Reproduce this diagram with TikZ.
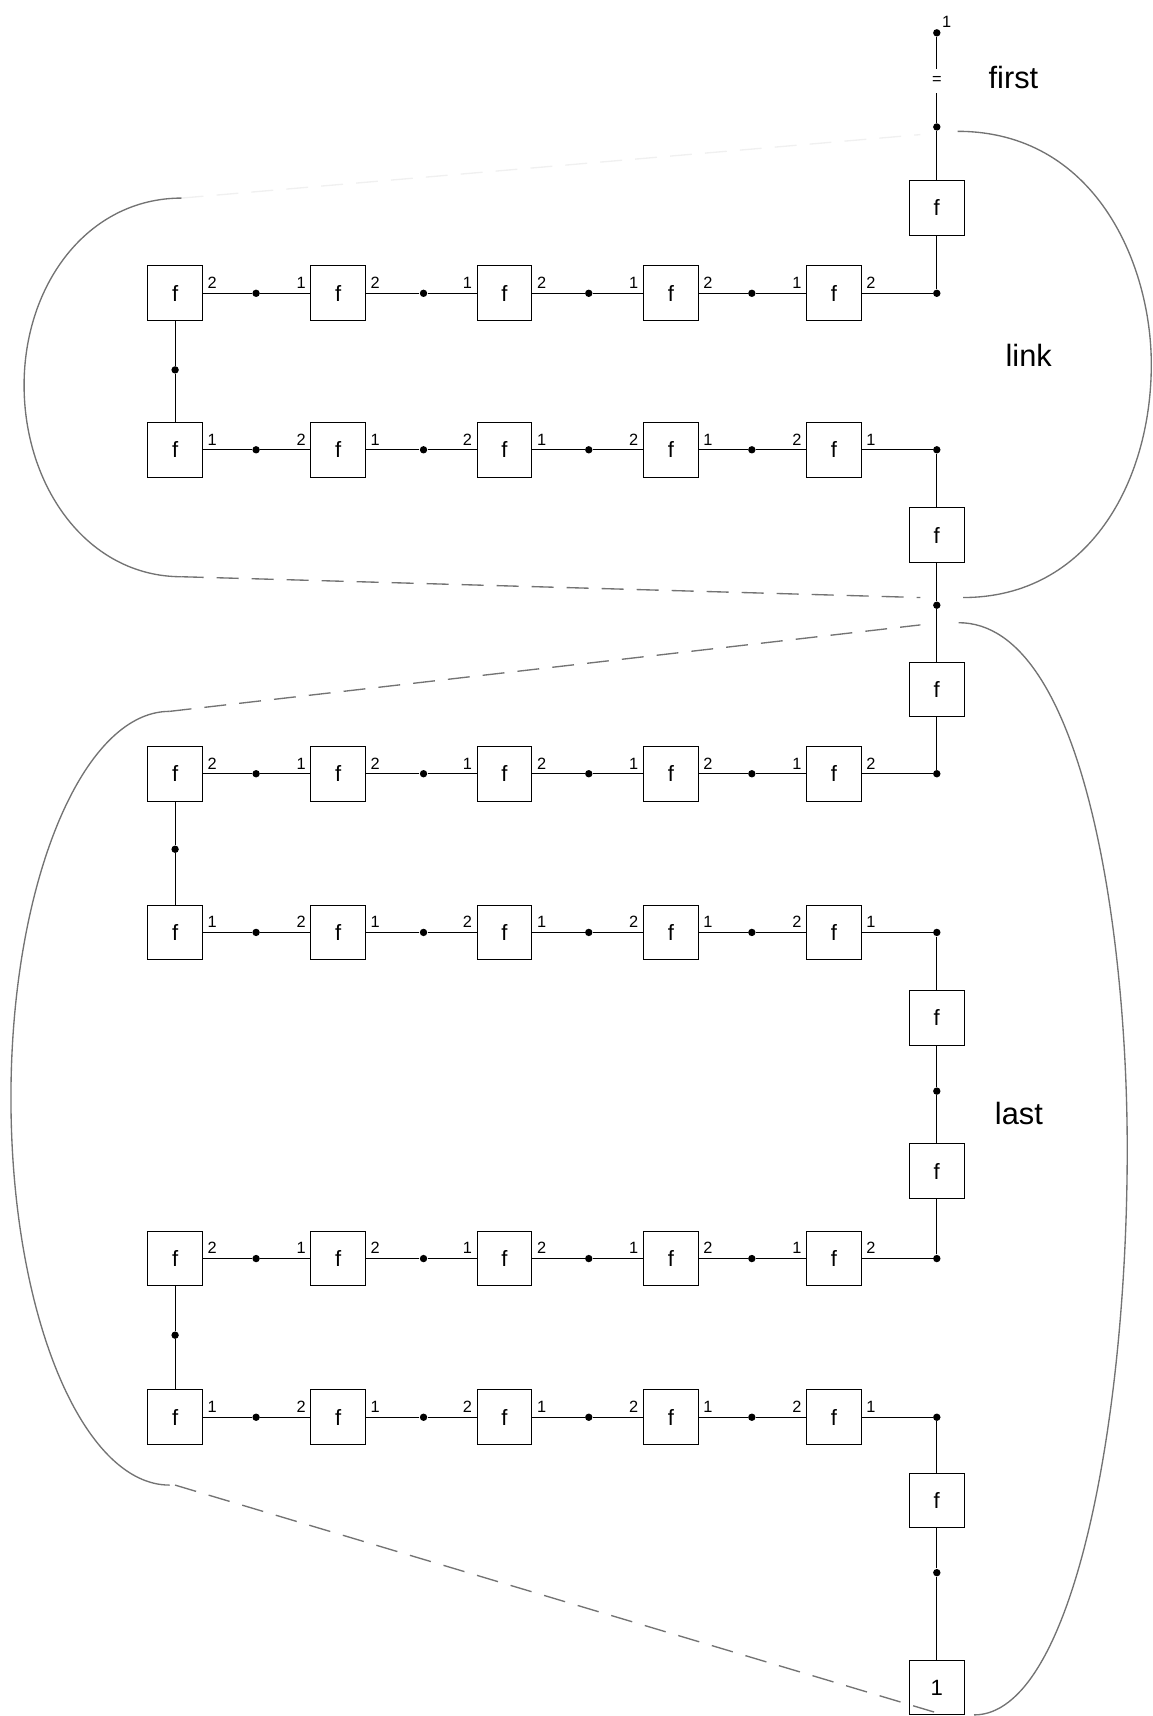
\documentclass[tikz,border=0pt]{standalone}
\usepackage{fontspec}
\setmainfont{Liberation Sans}
\tikzset{
  fbox/.style={draw, minimum size=1cm, inner sep=0pt, font=\fontsize{11.5}{13}\selectfont},
  jn/.style={circle, fill, inner sep=0pt, minimum size=1.35mm},
  port/.style={font=\fontsize{8.5}{10}\selectfont, inner sep=2.2pt},
  tag/.style={font=\fontsize{16}{19}\selectfont},
  loopline/.style={black!55, line width=0.7pt},
  cut/.style={loopline, dash pattern=on 0.4cm off 0.24cm}
}

\begin{document}
\begin{tikzpicture}[x=0.02cm, y=-0.02cm, line width=0.5pt]
  \useasboundingbox (0,0) rectangle (1053,1568);
  % the six rows of f boxes
  \foreach \r/\y/\p/\q in {1/268/2/1, 2/411/1/2, 3/707/2/1, 4/852/1/2, 5/1150/2/1, 6/1295/1/2} {
    \foreach \i/\x in {1/160,2/309,3/461,4/613,5/762}
      \node[fbox] (b\r\i) at (\x,\y) {f};
    \node[jn] (r\r) at (856,\y) {};
    \foreach \i/\j/\x in {1/2/234,2/3/387,3/4/538,4/5/687} {
      \node[jn] (d\r\i) at (\x,\y) {};
      \draw (b\r\i.east) node[port, above right]{\p} -- (d\r\i);
      \draw (d\r\i) -- (b\r\j.west) node[port, above left]{\q};
    }
    \draw (b\r5.east) node[port, above right]{\p} -- (r\r);
  }
  % turns on the left
  \foreach \k/\a/\b/\y in {1/1/2/338, 2/3/4/776, 3/5/6/1220} {
    \node[jn] (l\k) at (160,\y) {};
    \draw (b\a1.south) -- (l\k) -- (b\b1.north);
  }
  % the spine on the right
  \node[jn, label={[port, inner sep=1pt]45:1}] (t0) at (856,30) {};
  \node[port, inner sep=4pt] (eq) at (856,74) {=};
  \node[jn] (t1) at (856,116) {};
  \node[fbox] (ff) at (856,190) {f};
  \node[fbox] (fm1) at (856,489) {f};
  \node[jn] (m) at (856,553) {};
  \node[fbox] (fm2) at (856,630) {f};
  \node[fbox] (fl1) at (856,930) {f};
  \node[jn] (dl) at (856,997) {};
  \node[fbox] (fl2) at (856,1070) {f};
  \node[fbox] (fe) at (856,1371) {f};
  \node[jn] (de) at (856,1437) {};
  \node[fbox] (one) at (856,1542) {1};
  \draw (t0) -- (eq);
  \draw (eq) -- (t1) -- (ff) -- (r1);
  \draw (r2) -- (fm1) -- (m) -- (fm2) -- (r3);
  \draw (r4) -- (fl1) -- (dl) -- (fl2) -- (r5);
  \draw (r6) -- (fe) -- (de) -- (one);
  % names of the parts
  \node[tag] (first) at (926,71) {first};
  \node[tag] (link) at (940,325) {link};
  \node[tag] (last) at (931,1017) {last};
  % link loop
  \draw[loopline] (166,181) .. controls (80,181) and (22,260) .. (22,352)
    .. controls (22,445) and (80,527) .. (166,527);
  \draw[cut] (166,527) -- (841,546);
  \draw[cut, black!6] (166,181) -- (841,123);
  \draw[loopline] (875,120) .. controls (1000,120) and (1052,240) .. (1052,333)
    .. controls (1052,440) and (995,546) .. (880,546);
  % last loop
  \draw[cut] (155,650) -- (841,571);
  \draw[loopline] (155,650) .. controls (75,650) and (10,808) .. (10,1003)
    .. controls (10,1200) and (75,1357) .. (155,1357);
  \draw[cut] (160,1357) -- (859,1566);
  \draw[loopline] (876,569) .. controls (990,569) and (1030,850) .. (1030,1050)
    .. controls (1030,1300) and (980,1567) .. (890,1567);
\end{tikzpicture}
\end{document}
